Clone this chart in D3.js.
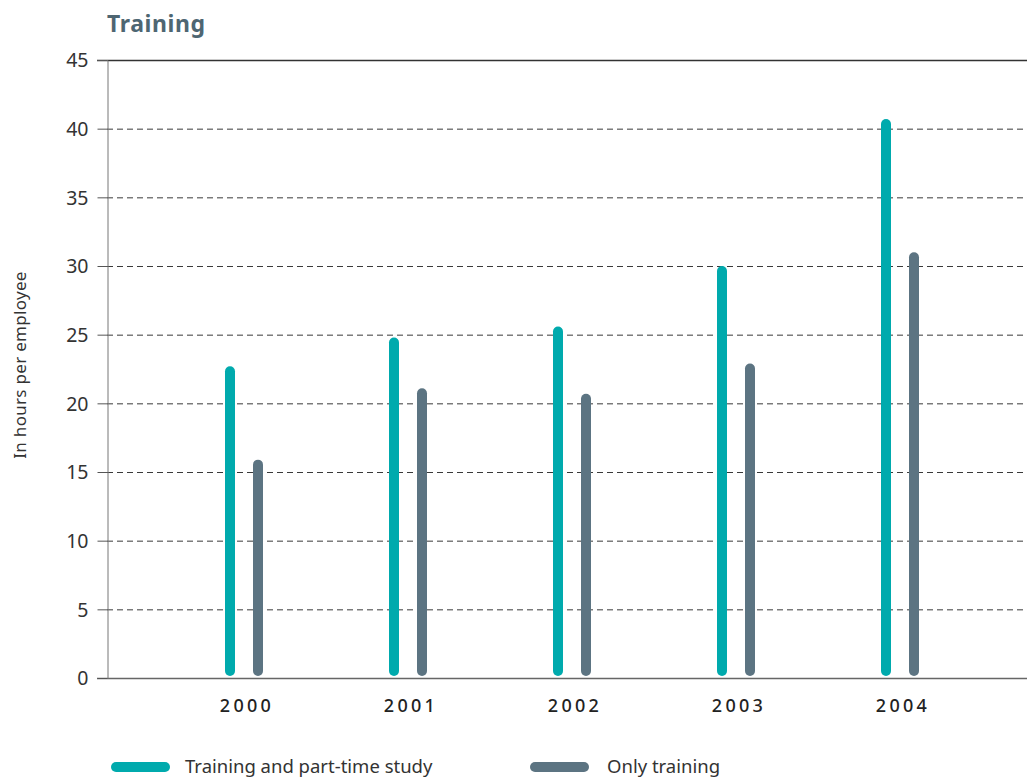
<!DOCTYPE html>
<html>
<head>
<meta charset="utf-8">
<script src="https://cdn.jsdelivr.net/npm/d3@7"></script>
<style>
  body { margin: 0; background: #fff; }
  svg text { font-family: "Noto Sans", "Open Sans", sans-serif; }
</style>
</head>
<body>
<svg id="chart" width="1027" height="777"></svg>
<script>
"use strict";

// données
var annees = ["2000", "2001", "2002", "2003", "2004"];
var formationEtEtudes = [22.7, 24.8, 25.6, 30.0, 40.7];
var formationSeule = [15.9, 21.1, 20.7, 22.9, 31.0];
var graduations = [0, 5, 10, 15, 20, 25, 30, 35, 40, 45];

var series = [
    { nom: "Training and part-time study", valeurs: formationEtEtudes, couleur: "#00aaad", decalage: -14 },
    { nom: "Only training", valeurs: formationSeule, couleur: "#5c7482", decalage: 14 }
];

var svg = d3.select("#chart");

var gauche = 107, droite = 1027, haut = 60, bas = 678;

var x = d3.scaleBand().domain(annees).range([162, 982]);
var y = d3.scaleLinear().domain([0, 45]).range([bas, haut]);

// titre
svg.append("text")
    .attr("x", 107).attr("y", 32)
    .style("font-size", "23px").style("font-weight", "bold")
    .style("letter-spacing", "0.6px")
    .style("fill", "#4e6672")
    .text("Training");

// grille en pointillés
svg.append("g").selectAll("line")
    .data(graduations.filter(function(d) { return d > 0 && d < 45; }))
    .enter().append("line")
    .attr("x1", gauche).attr("x2", droite)
    .attr("y1", function(d) { return y(d) + 0.5; })
    .attr("y2", function(d) { return y(d) + 0.5; })
    .attr("stroke", "#3a3a3a").attr("stroke-width", 1)
    .attr("stroke-dasharray", "6,4");

// ligne du haut (45) et de base (0)
[45, 0].forEach(function(v) {
    svg.append("line")
        .attr("x1", 97).attr("x2", droite)
        .attr("y1", y(v) + 0.5).attr("y2", y(v) + 0.5)
        .attr("stroke", v === 0 ? "#666" : "#333").attr("stroke-width", 1.3);
});

// axe vertical
var axeY = d3.axisLeft(y).tickValues(graduations).tickSize(10).tickPadding(9);
var gAxe = svg.append("g").attr("transform", "translate(" + (gauche + 0.5) + ",0)").call(axeY);
gAxe.select(".domain").attr("stroke", "#777");
gAxe.selectAll(".tick line").attr("stroke", "#555");
gAxe.selectAll(".tick text")
    .style("font-size", "19.5px").style("fill", "#333")
    .attr("dy", "0.35em");

// titre de l'axe Y
svg.append("text")
    .attr("transform", "translate(26, 365) rotate(-90)")
    .attr("text-anchor", "middle")
    .style("font-size", "17px").style("letter-spacing", "0.3px").style("fill", "#333")
    .text("In hours per employee");

// barres (traits arrondis)
var largeur = 10;
series.forEach(function(serie) {
    svg.append("g").selectAll("rect")
        .data(serie.valeurs)
        .enter().append("rect")
        .attr("x", function(d, i) { return x(annees[i]) + x.bandwidth() / 2 + serie.decalage - largeur / 2; })
        .attr("y", function(d) { return y(d); })
        .attr("width", largeur)
        .attr("height", function(d) { return y(0) - 2 - y(d); })
        .attr("rx", largeur / 2)
        .attr("fill", serie.couleur);
});

// étiquettes des années
svg.append("g").selectAll("text")
    .data(annees)
    .enter().append("text")
    .attr("x", function(d) { return x(d) + x.bandwidth() / 2 + 3; })
    .attr("y", 712)
    .attr("text-anchor", "middle")
    .style("font-size", "18px").style("font-weight", "500").style("letter-spacing", "3.3px")
    .style("fill", "#222")
    .text(function(d) { return d; });

// légende
var positionsLegende = [111, 530];
series.forEach(function(serie, i) {
    var g = svg.append("g").attr("transform", "translate(" + positionsLegende[i] + ",767)");
    g.append("line")
        .attr("x1", 5).attr("x2", 54)
        .attr("stroke", serie.couleur).attr("stroke-width", 10)
        .attr("stroke-linecap", "round");
    g.append("text")
        .attr("x", i === 0 ? 74 : 77).attr("y", 6)
        .style("font-size", "18.5px").style("fill", "#333")
        .text(serie.nom);
});
</script>
</body>
</html>
